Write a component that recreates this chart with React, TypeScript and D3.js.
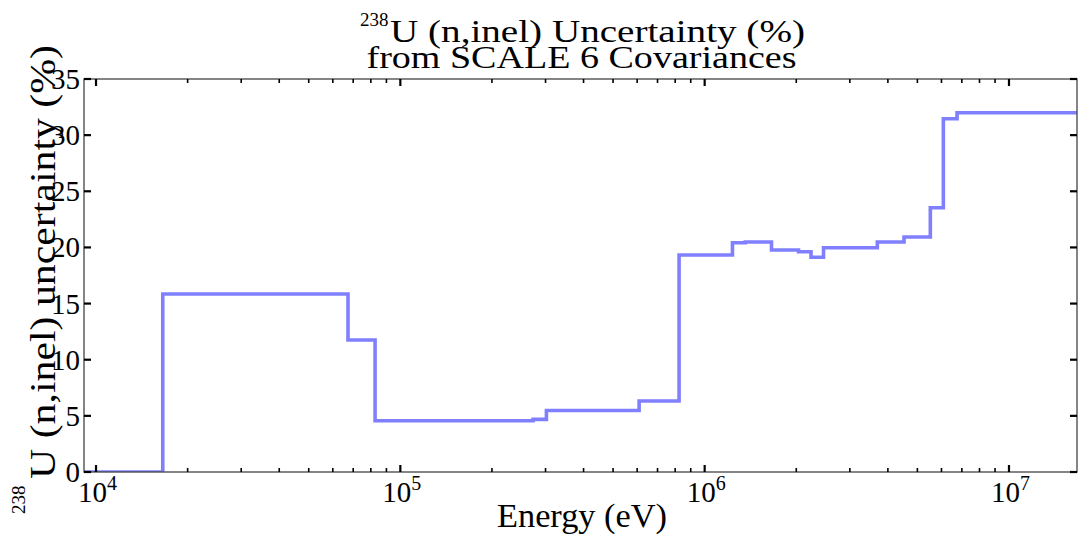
import React from "react";
import * as d3 from "d3";

// Group boundaries (eV) and uncertainty values (%) (step, "post" style)
const energyEdges: number[] = [
  1e3, 1.657e4, 6.73e4, 8.26e4, 2.73e5, 3.02e5, 6.09e5, 8.24e5, 1.234e6, 1.36e6,
  1.658e6, 2.034e6, 2.236e6, 2.458e6, 3.693e6, 4.52e6, 5.515e6, 6.086e6, 6.75e6, 2e7,
];
const uncertainty: number[] = [
  0, 15.85, 11.75, 4.57, 4.69, 5.48, 6.32, 19.32, 20.42, 20.48,
  19.77, 19.62, 19.12, 19.97, 20.48, 20.93, 23.54, 31.46, 32.0,
];
const yTicks: number[] = [0, 5, 10, 15, 20, 25, 30, 35];
const xMajorExps: number[] = [4, 5, 6, 7];
const titleLine1 = "U (n,inel) Uncertainty (%)";
const titleLine2 = "from SCALE 6 Covariances";
const xLabel = "Energy (eV)";
const yLabel = "U (n,inel) uncertainty (%)";
const isotope = "238";

const W = 1078;
const H = 538;
const M = { left: 84, right: 1077, top: 79, bottom: 472 };
const FONT = "'Liberation Serif', 'DejaVu Serif', serif";

export default function App() {
  const x = d3.scaleLog().domain([9131, 1.673e7]).range([M.left, M.right]);
  const y = d3.scaleLinear().domain([0, 35]).range([M.bottom, M.top]);

  const pts: [number, number][] = [];
  uncertainty.forEach((v, i) => {
    pts.push([energyEdges[i], v]);
    pts.push([energyEdges[i + 1], v]);
  });
  const line = d3
    .line<[number, number]>()
    .x((d) => x(d[0]))
    .y((d) => y(d[1]));

  const minor: number[] = [];
  for (let e = 3; e <= 7; e++) {
    for (let m = 2; m <= 9; m++) {
      const v = m * Math.pow(10, e);
      if (v > 9131 && v < 1.673e7) minor.push(v);
    }
  }

  return (
    <svg width={W} height={H} style={{ display: "block", position: "absolute", left: 0, top: 0 }}>
      <rect x={0} y={0} width={W} height={H} fill="#fff" />
      <defs>
        <clipPath id="plotclip">
          <rect x={M.left} y={M.top - 3} width={M.right - M.left} height={M.bottom - M.top + 3} />
        </clipPath>
      </defs>
      {/* title */}
      <text x={360} y={26} fontFamily={FONT} fontSize={19} fill="#000">{isotope}</text>
      <text x={390} y={42} fontFamily={FONT} fontSize={32} fill="#000" textLength={415} lengthAdjust="spacingAndGlyphs">
        {titleLine1}
      </text>
      <text x={366.5} y={68} fontFamily={FONT} fontSize={32} fill="#000" textLength={430} lengthAdjust="spacingAndGlyphs">
        {titleLine2}
      </text>

      {/* data */}
      <path
        d={line(pts) || ""}
        fill="none"
        stroke="#8080ff"
        strokeWidth={3.6}
        clipPath="url(#plotclip)"
      />

      {/* spines */}
      <rect x={M.left} y={M.top} width={M.right - M.left} height={M.bottom - M.top} fill="none" stroke="#444" strokeWidth={1.3} />

      {/* y ticks */}
      {yTicks.map((t) => (
        <g key={"y" + t}>
          <line x1={M.left} x2={M.left + 7} y1={y(t)} y2={y(t)} stroke="#000" strokeWidth={2.2} />
          <line x1={M.right} x2={M.right - 7} y1={y(t)} y2={y(t)} stroke="#000" strokeWidth={2.2} />
          <text x={M.left - 4} y={y(t) + 10} textAnchor="end" fontFamily={FONT} fontSize={29} fill="#000">
            {t}
          </text>
        </g>
      ))}

      {/* x minor ticks */}
      {minor.map((v) => (
        <g key={"m" + v}>
          <line x1={x(v)} x2={x(v)} y1={M.bottom} y2={M.bottom - 4} stroke="#000" strokeWidth={1.6} />
          <line x1={x(v)} x2={x(v)} y1={M.top} y2={M.top + 4} stroke="#000" strokeWidth={1.6} />
        </g>
      ))}
      {/* x major ticks */}
      {xMajorExps.map((e) => {
        const px = x(Math.pow(10, e));
        return (
          <g key={"x" + e}>
            <line x1={px} x2={px} y1={M.bottom} y2={M.bottom - 7} stroke="#000" strokeWidth={2.2} />
            <line x1={px} x2={px} y1={M.top} y2={M.top + 7} stroke="#000" strokeWidth={2.2} />
            <text x={px - 18} y={502} fontFamily={FONT} fontSize={29} fill="#000">
              10
              <tspan fontSize={20} dy={-12}>{e}</tspan>
            </text>
          </g>
        );
      })}

      {/* axis labels */}
      <text x={497} y={527} fontFamily={FONT} fontSize={34} fill="#000" textLength={170} lengthAdjust="spacingAndGlyphs">
        {xLabel}
      </text>
      <text transform="translate(25,514) rotate(-90)" fontFamily={FONT} fontSize={19} fill="#000">
        {isotope}
      </text>
      <text
        transform="translate(55,479) rotate(-90)"
        fontFamily={FONT}
        fontSize={35}
        fill="#000"
        textLength={434}
        lengthAdjust="spacingAndGlyphs"
      >
        {yLabel}
      </text>
    </svg>
  );
}
